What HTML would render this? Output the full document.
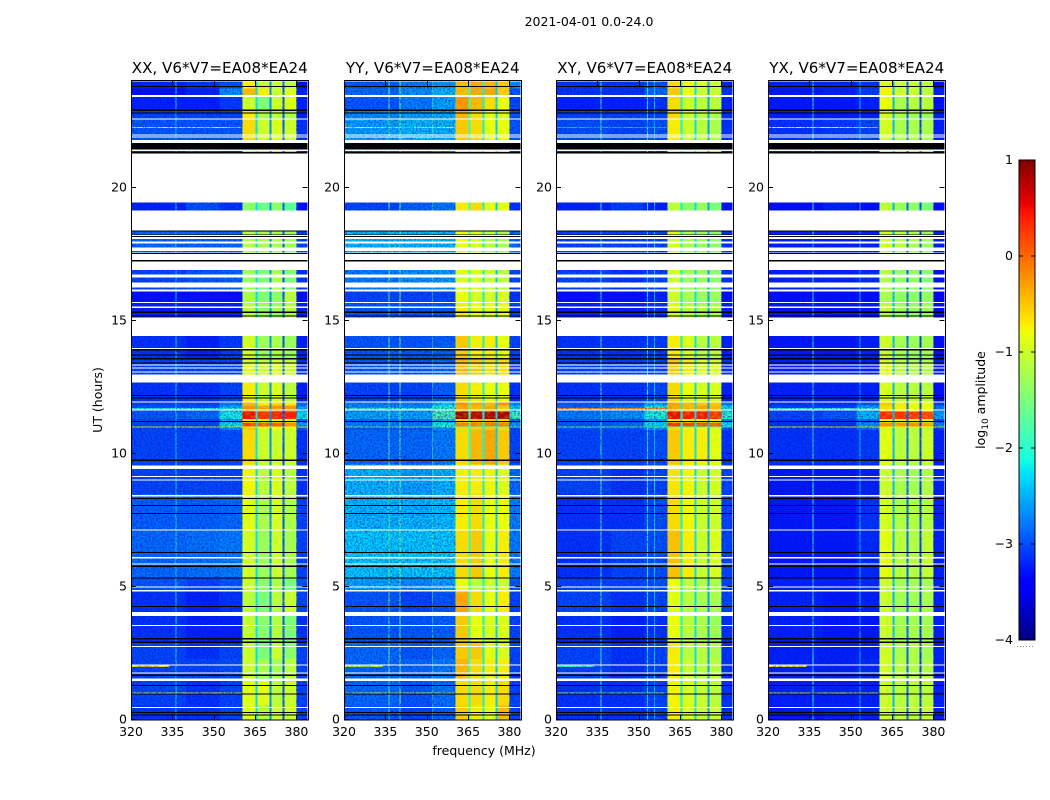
<!DOCTYPE html>
<html>
<head>
<meta charset="utf-8">
<title>2021-04-01 0.0-24.0</title>
<style>
html,body{margin:0;padding:0;background:#fff;width:1050px;height:800px;overflow:hidden}
svg{display:block}
text{font-family:"DejaVu Sans","Liberation Sans",sans-serif;fill:#000}
</style>
</head>
<body>
<svg id="fig" xmlns="http://www.w3.org/2000/svg" width="1050" height="800" viewBox="0 0 1050 800">
  <defs>
    <linearGradient id="jetGrad" x1="0" y1="1" x2="0" y2="0"></linearGradient>
    <filter id="speckle" x="0" y="0" width="100%" height="100%" color-interpolation-filters="sRGB">
      <feTurbulence type="fractalNoise" baseFrequency="0.55" numOctaves="2" seed="4"/>
      <feColorMatrix type="matrix" values="0 0 0 0 0  0 0 0 0 0.05  0 0 0 0 0.75  1.9 0 0 0 -0.72"/>
    </filter>
    <filter id="bandTexture" x="0" y="0" width="100%" height="100%" color-interpolation-filters="sRGB">
      <feTurbulence type="fractalNoise" baseFrequency="0.22 0.38" numOctaves="2" seed="9"/>
      <feColorMatrix type="matrix" values="0 0 0 0 0.55  0 0 0 0 1  0 0 0 0 0.3  2.6 0 0 0 -1.15"/>
    </filter>
  </defs>
  <text x="589" y="26" font-size="12.5" text-anchor="middle">2021-04-01 0.0-24.0</text>
  <g id="panels"></g>
  <text x="484" y="755" font-size="12.5" text-anchor="middle">frequency (MHz)</text>
  <text x="0" y="0" font-size="12.5" text-anchor="middle" transform="translate(102,400) rotate(-90)">UT (hours)</text>
  <g id="cbar"></g>
  <text x="0" y="0" font-size="12.5" text-anchor="middle" transform="translate(985,400) rotate(-90)">log<tspan font-size="9" dy="3">10</tspan><tspan dy="-3"> amplitude</tspan></text>
</svg>
<script>
const panelTitles = ["XX, V6*V7=EA08*EA24", "YY, V6*V7=EA08*EA24", "XY, V6*V7=EA08*EA24", "YX, V6*V7=EA08*EA24"];
const freqTicks = [320, 335, 350, 365, 380];
const utTicks = [0, 5, 10, 15, 20];
const cbarTicks = [1, 0, -1, -2, -3, -4];

// frequency band edges (MHz)
const bandEdges = [320, 340, 352, 360.4, 365.1, 365.8, 370.2, 370.9, 375, 375.6, 380, 384];
// UT block edges (hours)
const blockEdges = [0, .55, 1.47, 2.3, 2.95, 4.05, 4.85, 5.33, 7.13, 8.5, 9.6, 10.9, 11.04, 11.19, 11.32, 11.6, 11.82, 11.94, 12.68, 13.6, 14.45, 15.7, 16.1, 17.5, 19.16, 21.81, 22.57, 22.94, 23.43, 23.75, 24];

// log10 amplitude per block: low, mid, high background, sub-band 1-4, upper background
const xxLevels = [
[-3.1,-3.1,-3.0,-0.9,-1.1,-1.0,-1.0,-3.0],[-3.0,-3.1,-3.0,-0.85,-0.85,-1.1,-1.0,-3.0],[-3.0,-3.0,-2.95,-1.0,-1.2,-1.25,-1.1,-3.0],
[-3.0,-3.1,-3.0,-1.0,-1.5,-1.0,-1.4,-3.0],[-3.1,-3.2,-3.2,-1.05,-1.4,-1.15,-1.5,-3.1],[-3.1,-3.2,-3.1,-1.1,-1.5,-1.1,-1.0,-3.0],
[-2.9,-3.0,-2.9,-1.0,-1.4,-1.2,-1.5,-2.9],[-2.8,-2.75,-2.7,-0.95,-1.3,-1.0,-1.25,-3.0],[-2.85,-2.85,-2.8,-0.85,-1.2,-0.95,-1.2,-3.0],
[-3.0,-3.0,-3.0,-0.75,-1.1,-0.9,-1.1,-3.1],[-3.0,-3.0,-2.95,-0.6,-1.0,-1.0,-1.0,-3.1],[-3.0,-3.0,-2.6,-0.5,-0.9,-0.8,-0.9,-2.9],
[-3.0,-3.0,-2.2,0.2,0.05,0.05,-0.2,-2.5],[-3.0,-3.0,-2.5,-0.7,-1.0,-0.9,-1.0,-2.8],[-2.9,-2.8,-2.1,0.5,0.3,0.4,0.4,-2.2],
[-2.9,-2.9,-2.4,-0.2,-0.3,-0.2,-0.2,-2.5],[-3.0,-3.0,-2.7,-0.4,-0.7,-0.6,-0.7,-2.8],[-3.1,-3.1,-3.0,-0.7,-1.0,-0.9,-1.1,-3.2],
[-3.0,-3.0,-3.0,-0.9,-1.0,-0.9,-1.0,-3.1],[-3.1,-3.2,-3.05,-0.95,-1.3,-1.2,-1.3,-3.2],[-3.2,-3.2,-3.2,-1.1,-1.3,-1.3,-1.15,-3.2],
[-3.3,-3.3,-3.3,-1.2,-1.5,-1.4,-1.1,-3.3],[-3.0,-2.9,-2.85,-1.3,-1.5,-1.2,-1.5,-3.1],[-2.8,-2.8,-2.8,-1.1,-1.2,-1.2,-1.3,-3.0],
[-3.2,-2.95,-3.1,-1.4,-1.6,-1.4,-1.7,-3.3],[-2.9,-2.9,-2.9,-0.6,-1.0,-0.9,-1.0,-3.1],[-3.0,-3.0,-3.0,-0.7,-1.2,-1.1,-1.2,-3.2],
[-3.2,-3.2,-3.05,-1.0,-1.5,-1.0,-0.9,-3.2],[-3.3,-3.2,-2.6,-0.4,-0.7,-1.0,-0.9,-3.2],[-3.2,-3.1,-2.95,-0.7,-1.0,-1.0,-1.1,-3.3]
];
const yyLevels = [
[-2.9,-3.0,-2.85,-0.5,-0.7,-0.8,-0.4,-3.0],[-2.8,-2.9,-2.75,-0.6,-0.6,-0.7,-0.6,-3.0],[-2.8,-2.8,-2.7,-0.4,-0.6,-0.7,-0.7,-3.0],
[-2.8,-2.9,-2.8,-0.5,-0.5,-0.8,-0.9,-3.0],[-2.9,-2.9,-2.85,-0.5,-0.8,-0.9,-0.9,-3.0],[-2.9,-3.0,-2.9,-0.3,-0.6,-0.8,-0.7,-3.0],
[-2.5,-2.6,-2.5,-0.8,-1.1,-1.0,-1.0,-2.9],[-2.3,-2.3,-2.3,-0.6,-0.5,-0.8,-0.7,-2.7],[-2.4,-2.4,-2.35,-0.7,-0.6,-0.8,-0.8,-2.7],
[-2.4,-2.5,-2.4,-0.7,-0.7,-0.75,-0.9,-2.8],[-2.8,-2.8,-2.7,-0.6,-0.4,-0.3,-0.5,-3.0],[-2.9,-2.9,-2.6,-0.6,-0.5,-0.5,-0.6,-3.0],
[-2.7,-2.7,-2.1,-0.1,-0.1,-0.05,-0.1,-2.6],[-2.8,-2.8,-2.4,-0.6,-0.5,-0.5,-0.6,-2.8],[-2.5,-2.5,-1.8,0.85,0.75,0.8,0.8,-1.9],
[-2.6,-2.6,-2.0,-0.3,-0.4,-0.3,-0.5,-2.3],[-2.7,-2.7,-2.3,-0.2,-0.3,-0.4,-0.2,-2.6],[-3.0,-3.0,-2.85,-0.6,-0.7,-0.8,-0.8,-3.1],
[-2.9,-2.9,-2.8,-0.4,-0.5,-0.6,-0.6,-3.0],[-2.9,-2.9,-2.85,-0.5,-0.7,-0.7,-0.8,-3.0],[-2.9,-2.9,-2.9,-0.7,-0.8,-0.8,-0.8,-3.0],
[-3.0,-3.0,-3.0,-0.8,-0.9,-0.9,-0.9,-3.1],[-2.7,-2.6,-2.55,-0.9,-0.9,-1.0,-1.1,-3.0],[-2.4,-2.4,-2.4,-0.8,-0.9,-1.1,-1.2,-2.8],
[-3.0,-2.85,-2.75,-0.7,-0.6,-0.8,-0.85,-3.1],[-2.5,-2.4,-2.4,-0.5,-0.6,-0.8,-0.8,-2.9],[-2.6,-2.5,-2.45,-0.4,-0.6,-0.8,-0.9,-2.9],
[-2.9,-2.7,-2.5,-0.2,-0.4,-0.6,-0.8,-3.0],[-2.8,-2.6,-2.4,-0.4,-0.3,-0.3,-0.5,-2.9],[-2.9,-2.7,-2.55,-0.4,-0.3,-0.4,-0.5,-2.6]
];
const xyLevels = [
[-3.1,-3.1,-3.0,-0.7,-0.9,-1.0,-1.0,-3.1],[-3.1,-3.1,-3.0,-0.75,-0.9,-1.0,-1.1,-3.1],[-3.0,-3.1,-3.0,-0.7,-1.0,-1.1,-1.1,-3.1],
[-3.0,-3.1,-3.0,-0.7,-1.1,-1.1,-1.2,-3.1],[-3.1,-3.2,-3.1,-0.8,-1.1,-1.2,-1.3,-3.1],[-3.0,-3.1,-3.0,-0.85,-1.1,-1.2,-1.2,-3.0],
[-3.0,-3.0,-2.95,-0.8,-1.1,-1.2,-1.2,-3.0],[-3.1,-3.0,-2.95,-0.45,-0.7,-1.0,-0.9,-3.0],[-3.1,-3.1,-2.95,-0.6,-0.75,-1.0,-1.0,-3.0],
[-3.0,-3.1,-3.0,-0.65,-0.75,-1.0,-0.95,-3.0],[-3.0,-3.0,-2.95,-0.5,-0.7,-0.7,-0.85,-3.1],[-2.9,-2.9,-2.6,-0.6,-0.8,-0.8,-0.9,-2.9],
[-2.9,-2.8,-2.2,0.3,0.2,0.2,0.1,-2.2],[-2.9,-2.9,-2.5,-0.7,-0.8,-0.8,-0.9,-2.7],[-2.7,-2.6,-2.0,0.5,0.45,0.45,0.3,-2.0],
[-2.8,-2.7,-2.1,-0.3,-0.4,-0.3,-0.4,-2.2],[-2.9,-2.9,-2.5,-0.3,-0.4,-0.5,-0.5,-2.7],[-3.1,-3.1,-3.0,-0.6,-0.8,-0.9,-0.9,-3.2],
[-3.0,-3.0,-3.0,-0.5,-0.7,-0.9,-0.9,-3.1],[-3.1,-3.1,-3.05,-0.7,-0.9,-1.1,-1.1,-3.2],[-3.2,-3.2,-3.1,-0.9,-1.1,-1.2,-1.2,-3.2],
[-3.3,-3.3,-3.2,-1.0,-1.2,-1.3,-1.3,-3.3],[-3.0,-3.1,-3.0,-1.0,-1.3,-1.3,-1.4,-3.1],[-3.0,-3.0,-3.0,-0.9,-1.2,-1.3,-1.4,-3.1],
[-3.2,-3.05,-3.2,-1.1,-1.4,-1.3,-1.5,-3.3],[-2.95,-3.0,-2.95,-0.7,-1.0,-1.1,-1.2,-3.1],[-3.0,-3.0,-3.0,-0.6,-1.0,-1.1,-1.2,-3.1],
[-3.2,-3.2,-3.1,-0.6,-1.0,-1.1,-1.1,-3.2],[-3.1,-3.1,-2.8,-0.5,-0.8,-1.0,-1.0,-3.1],[-3.1,-3.1,-2.95,-0.6,-0.8,-0.9,-1.0,-3.2]
];
const yxLevels = [
[-3.25,-3.2,-3.2,-1.0,-1.1,-1.1,-1.0,-3.2],[-3.2,-3.2,-3.2,-1.0,-1.1,-1.1,-1.1,-3.2],[-3.2,-3.2,-3.15,-0.95,-1.1,-1.15,-1.15,-3.2],
[-3.2,-3.2,-3.2,-0.95,-1.2,-1.15,-1.25,-3.2],[-3.2,-3.25,-3.25,-1.0,-1.25,-1.25,-1.25,-3.2],[-3.2,-3.25,-3.2,-1.0,-1.25,-1.25,-1.2,-3.2],
[-3.2,-3.2,-3.15,-1.0,-1.25,-1.25,-1.25,-3.2],[-3.25,-3.25,-3.15,-0.85,-1.1,-1.15,-1.05,-3.2],[-3.25,-3.25,-3.1,-0.95,-1.15,-1.15,-1.15,-3.2],
[-3.25,-3.25,-3.2,-1.0,-1.2,-1.25,-1.15,-3.2],[-3.1,-3.1,-3.05,-0.85,-1.1,-1.1,-1.0,-3.2],[-3.1,-3.1,-2.8,-0.95,-1.1,-1.1,-1.1,-3.0],
[-3.1,-3.1,-2.6,-0.2,-0.25,-0.2,-0.3,-2.7],[-3.1,-3.1,-2.8,-0.85,-1.0,-1.0,-1.1,-3.0],[-3.0,-2.9,-2.4,0.35,0.3,0.3,0.2,-2.5],
[-3.0,-3.0,-2.5,-0.6,-0.7,-0.8,-0.8,-2.7],[-3.1,-3.1,-2.9,-0.5,-0.7,-0.8,-0.8,-3.0],[-3.2,-3.2,-3.2,-0.9,-1.1,-1.1,-1.1,-3.3],
[-3.2,-3.2,-3.2,-0.85,-1.1,-1.15,-1.15,-3.2],[-3.25,-3.25,-3.2,-1.0,-1.25,-1.3,-1.25,-3.3],[-3.25,-3.25,-3.25,-1.1,-1.3,-1.35,-1.3,-3.3],
[-3.3,-3.3,-3.3,-1.2,-1.35,-1.4,-1.35,-3.4],[-3.2,-3.2,-3.15,-1.15,-1.35,-1.35,-1.45,-3.3],[-3.2,-3.2,-3.2,-1.0,-1.1,-1.2,-1.3,-3.2],
[-3.3,-3.2,-3.3,-1.1,-1.3,-1.4,-1.5,-3.3],[-3.1,-3.05,-3.0,-0.95,-1.2,-1.2,-1.2,-3.2],[-3.2,-3.2,-3.2,-0.95,-1.2,-1.25,-1.3,-3.2],
[-3.25,-3.25,-3.2,-0.8,-1.2,-1.1,-1.1,-3.3],[-3.25,-3.2,-3.05,-0.75,-1.0,-1.0,-1.1,-3.2],[-3.2,-3.2,-3.1,-0.85,-1.0,-1.0,-1.1,-3.3]
];
// amplitude in the three narrow notches between sub-bands
const xxNotches = [-2.3, -2.7, -3.0];
const yyNotches = [-2.0, -2.2, -2.4];
const xyNotches = [-2.2, -2.3, -2.6];
const yxNotches = [-2.5, -2.9, -3.1];

// narrow interference channels: MHz and level, per polarisation
const xxChannels = [[336.1, -2.2]];
const yyChannels = [[336.1, -1.7], [340.1, -1.5], [352.0, -1.5]];
const xyChannels = [[336.1, -1.9], [353.0, -2.1], [355.6, -2.3]];
const yxChannels = [[336.1, -2.0], [353.2, -2.4]];

// interference rows: start UT, end UT, start MHz, end MHz, level per panel
const rfiRows = [
  [11.0, 11.04, 320, 384, [-0.9, -1.6, -1.7, -0.8]],
  [2.0, 2.04, 320, 334, [-0.7, -1.0, -1.9, -0.7]],
  [1.0, 1.04, 320, 360, [-1.0, -1.2, -1.6, -1.2]],
  [22.26, 22.3, 320, 360, [-0.9, -0.9, -2.4, -0.8]],
  [11.68, 11.72, 320, 360, [-2.0, -1.9, -0.3, -1.9]]
];

// flagged rows: UT start/end, no data (white)
const whiteGaps = [[.45,.49],[1.47,1.56],[1.74,1.78],[2.05,2.09],[2.74,2.78],[3.53,3.57],[3.91,4.06],[4.84,4.88],[4.98,5.02],[5.84,5.88],[6.08,6.12],[7.13,7.17],[8.41,8.45],[9.0,9.04],[9.14,9.18],[9.44,9.57],[11.64,11.68],[11.93,11.97],[12.68,12.98],[13.06,13.1],[13.21,13.25],[13.33,13.37],[13.94,13.98],[14.44,15.13],[15.49,15.54],[15.67,15.72],[16.1,16.19],[16.26,16.44],[16.64,16.74],[16.92,17.23],[17.29,17.51],[17.53,17.58],[17.64,17.76],[17.91,17.98],[18.09,18.16],[18.19,18.23],[18.41,19.16],[19.45,21.3],[21.4,21.44],[21.69,21.81],[21.9,21.94],[21.97,22.01],[22.57,22.61],[23.43,23.5]];
// flagged rows: UT start/end, zero amplitude (black)
const blackFlags = [[.16,.2],[.27,.31],[.96,1.0],[1.28,1.32],[1.66,1.71],[2.9,2.96],[3.03,3.09],[4.25,4.29],[5.32,5.36],[5.76,5.8],[6.27,6.31],[7.74,7.78],[8.05,8.09],[8.3,8.34],[9.73,9.79],[11.21,11.25],[12.09,12.13],[12.18,12.22],[13.4,13.44],[13.56,13.6],[13.7,13.74],[13.9,13.94],[15.16,15.2],[15.31,15.36],[17.24,17.29],[17.51,17.55],[18.16,18.19],[18.23,18.26],[18.36,18.41],[21.3,21.35],[21.44,21.69],[22.8,22.84],[22.89,22.95],[23.79,23.83]];

const panelLevels = [xxLevels, yyLevels, xyLevels, yxLevels];
const panelNotches = [xxNotches, yyNotches, xyNotches, yxNotches];
const panelChannels = [xxChannels, yyChannels, xyChannels, yxChannels];
const panelLefts = [131, 344, 556, 768];
const panelWidth = 176.5;
const plotTop = 81.6, plotBottom = 720;
const freqMin = 320, freqMax = 384, utMin = 0, utMax = 24;

const NS = "http://www.w3.org/2000/svg";
function xScale(p, f) { return panelLefts[p] + (f - freqMin) / (freqMax - freqMin) * panelWidth; }
function yScale(h) { return plotBottom - (h - utMin) / (utMax - utMin) * (plotBottom - plotTop); }
function ramp(t, pts) {
  for (let i = 1; i < pts.length; i++) {
    if (t <= pts[i][0]) {
      const a = pts[i - 1], b = pts[i];
      return a[1] + (b[1] - a[1]) * (t - a[0]) / (b[0] - a[0]);
    }
  }
  return pts[pts.length - 1][1];
}
function jet(t) {
  t = Math.max(0, Math.min(1, t));
  const r = ramp(t, [[0,0],[.35,0],[.66,1],[.89,1],[1,.5]]);
  const g = ramp(t, [[0,0],[.125,0],[.375,1],[.64,1],[.91,0],[1,0]]);
  const b = ramp(t, [[0,.5],[.11,1],[.34,1],[.65,0],[1,0]]);
  return "rgb(" + Math.round(r * 255) + "," + Math.round(g * 255) + "," + Math.round(b * 255) + ")";
}
function colorOf(v) { return jet((v + 4) / 5); }
function make(tag, attrs, parent) {
  const el = document.createElementNS(NS, tag);
  for (const k in attrs) el.setAttribute(k, attrs[k]);
  parent.appendChild(el);
  return el;
}

const panelsRoot = document.getElementById("panels");
panelTitles.forEach(function (title, p) {
  const g = make("g", {}, panelsRoot);
  
  
  const heat = make("g", {"shape-rendering": "crispEdges"}, g);
  
  
  const levels = panelLevels[p], notches = panelNotches[p];
  levels.forEach(function (row, b) {
    const cols = [row[0], row[1], row[2], row[3], notches[0], row[4], notches[1], row[5], notches[2], row[6], row[7]];
    cols.forEach(function (v, c) {
      const x0 = xScale(p, bandEdges[c]), x1 = xScale(p, bandEdges[c + 1]);
      const y0 = yScale(blockEdges[b + 1]), y1 = yScale(blockEdges[b]);
      const cell = make("rect", {x: x0, y: y0, width: x1 - x0, height: y1 - y0, fill: colorOf(v)}, heat);
      
      
    });
  });
  panelChannels[p].forEach(function (ch) {
    const line = make("rect", {x: xScale(p, ch[0]), y: plotTop, width: xScale(p, ch[0] + 0.36) - xScale(p, ch[0]), height: plotBottom - plotTop, fill: colorOf(ch[1])}, heat);
    
    
  });
  rfiRows.forEach(function (r) {
    const line = make("rect", {x: xScale(p, r[2]), y: yScale(r[1]), width: xScale(p, r[3]) - xScale(p, r[2]), height: yScale(r[0]) - yScale(r[1]), fill: colorOf(r[4][p])}, heat);
    
    
  });
  [[320, 360.4], [380, 384]].forEach(function (span) {
    const sp = make("rect", {x: xScale(p, span[0]), y: plotTop, width: xScale(p, span[1]) - xScale(p, span[0]), height: plotBottom - plotTop, filter: "url(#speckle)", opacity: 0.8}, g);
    
    
  });
  const tex = make("rect", {x: xScale(p, 360.4), y: plotTop, width: xScale(p, 380) - xScale(p, 360.4), height: plotBottom - plotTop, filter: "url(#bandTexture)", opacity: 0.35}, g);
  
  
  const flags = make("g", {"shape-rendering": "crispEdges"}, g);
  
  
  whiteGaps.forEach(function (r) {
    const el = make("rect", {x: panelLefts[p], y: yScale(r[1]), width: panelWidth, height: yScale(r[0]) - yScale(r[1]), fill: "#fff"}, flags);
    
    
  });
  blackFlags.forEach(function (r) {
    const el = make("rect", {x: panelLefts[p], y: yScale(r[1]), width: panelWidth, height: yScale(r[0]) - yScale(r[1]), fill: "#000"}, flags);
    
    
  });
  const frame = make("rect", {x: panelLefts[p] + .5, y: 80.5, width: Math.round(panelWidth), height: plotBottom - 80.5, fill: "none", stroke: "#000", "stroke-width": 1}, g);
  
  
  freqTicks.forEach(function (t) {
    const x = Math.round(xScale(p, t)) + .5;
    const tickB = make("line", {x1: x, x2: x, y1: plotBottom, y2: plotBottom - 5, stroke: "#000"}, g);
    
    
    const tickT = make("line", {x1: x, x2: x, y1: 81, y2: 86, stroke: "#000"}, g);
    
    
    const lab = make("text", {x: xScale(p, t), y: 736, "font-size": 12.5, "text-anchor": "middle"}, g);
    lab.textContent = t;
    
    
  });
  utTicks.forEach(function (t) {
    const y = Math.round(yScale(t)) - .5;
    const tickL = make("line", {x1: panelLefts[p], x2: panelLefts[p] + 5, y1: y, y2: y, stroke: "#000"}, g);
    
    
    const tickR = make("line", {x1: panelLefts[p] + panelWidth, x2: panelLefts[p] + panelWidth - 5, y1: y, y2: y, stroke: "#000"}, g);
    
    
    const lab = make("text", {x: panelLefts[p] - 4, y: yScale(t) + 3.5, "font-size": 12.5, "text-anchor": "end"}, g);
    lab.textContent = t;
    
    
  });
  const ttl = make("text", {x: panelLefts[p] + panelWidth / 2 + .5, y: 73, "font-size": 15.1, "text-anchor": "middle"}, g);
  ttl.textContent = title;
  
  
});

// colour bar
const cbarX = 1019, cbarW = 16, cbarTop = 160, cbarBottom = 640;
function cbarY(v) { return cbarBottom - (v + 4) / 5 * (cbarBottom - cbarTop); }
const grad = document.getElementById("jetGrad");
[0, .11, .125, .34, .35, .375, .64, .65, .66, .89, .91, 1].forEach(function (t) {
  make("stop", {offset: t, "stop-color": jet(t)}, grad);
});
const cbarRoot = document.getElementById("cbar");
const bar = make("rect", {x: cbarX, y: cbarTop, width: cbarW, height: cbarBottom - cbarTop, fill: "url(#jetGrad)", stroke: "#000", "stroke-width": 1}, cbarRoot);


cbarTicks.forEach(function (t) {
  const y = cbarY(t);
  const l = make("line", {x1: cbarX, x2: cbarX + 4, y1: y, y2: y, stroke: "#000"}, cbarRoot);
  
  
  const r = make("line", {x1: cbarX + cbarW, x2: cbarX + cbarW - 4, y1: y, y2: y, stroke: "#000"}, cbarRoot);
  
  
  const lab = make("text", {x: cbarX - 6, y: y + 4, "font-size": 12.5, "text-anchor": "end"}, cbarRoot);
  lab.textContent = t < 0 ? "\u2212" + Math.abs(t) : String(t);
  
  
});
const dots = make("line", {x1: 1017, x2: 1035, y1: 646.5, y2: 646.5, stroke: "#888", "stroke-width": 1, "stroke-dasharray": "1 2"}, cbarRoot);


</script>
</body>
</html>
